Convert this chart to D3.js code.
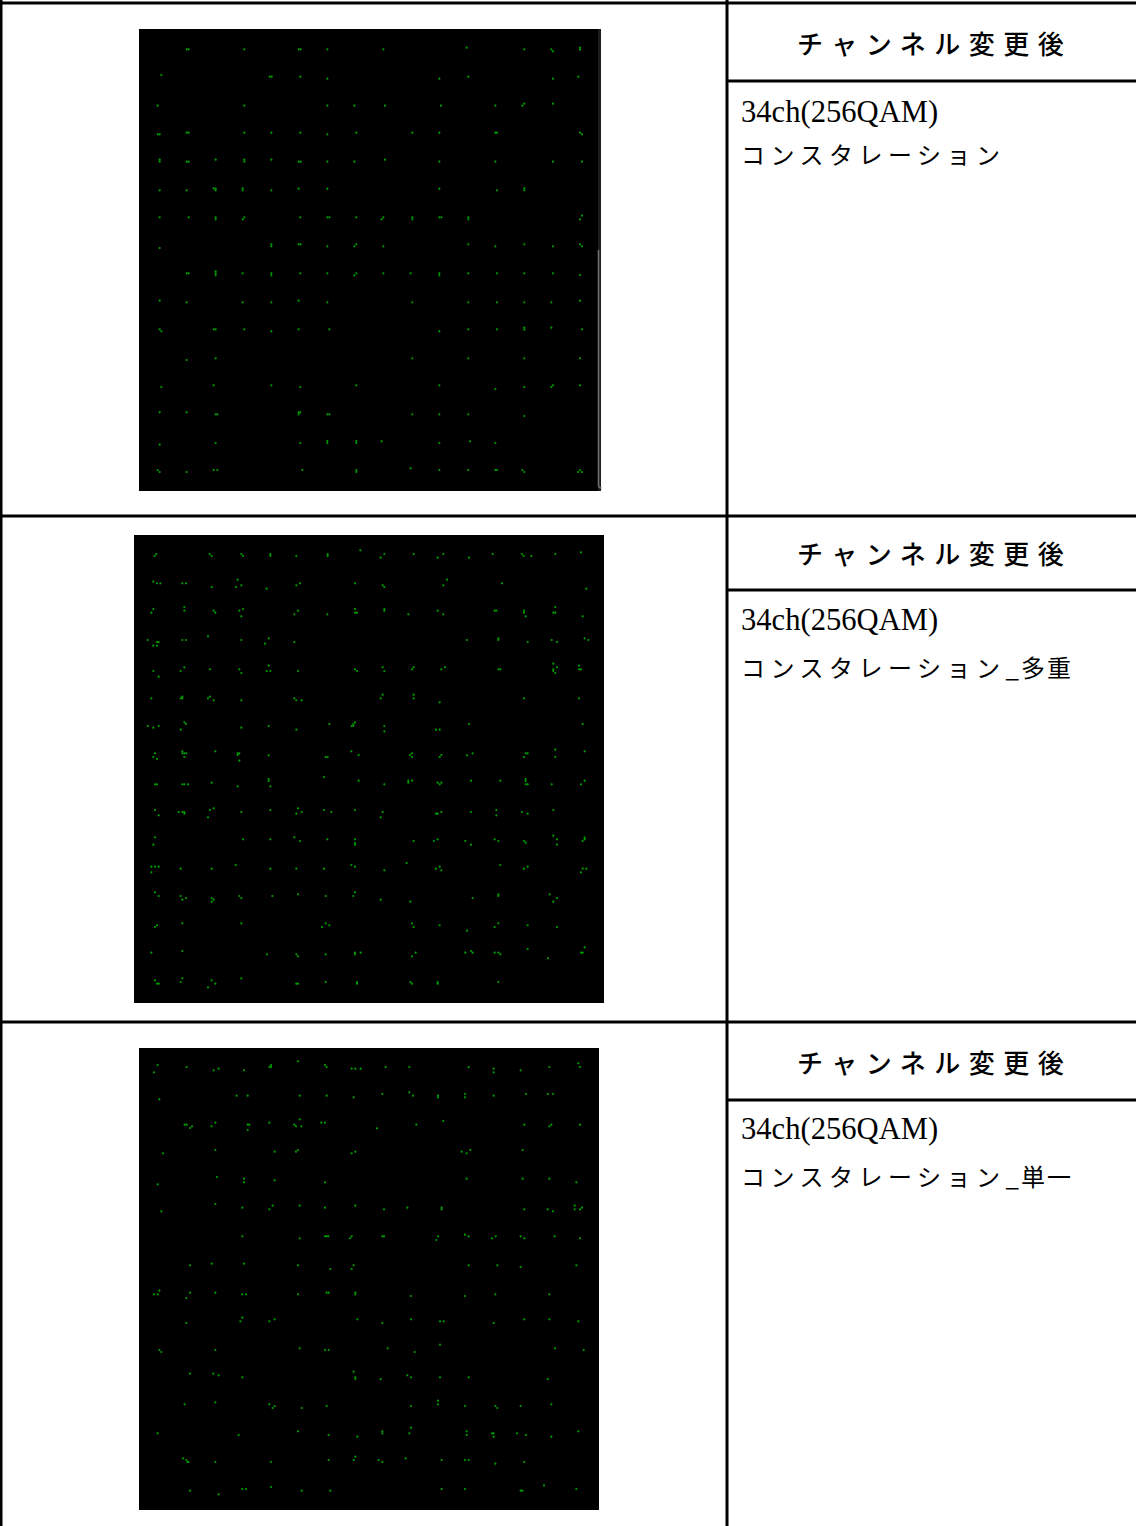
<!DOCTYPE html>
<html lang="ja">
<head>
<meta charset="utf-8">
<script src="https://cdn.jsdelivr.net/npm/d3@7"></script>
<style>html,body{margin:0;padding:0;background:#fff}svg{display:block}</style>
</head>
<body>
<div id="chart"></div>
<script>
// Text content
const headerLabel = "チャンネル変更後";
const channelLabel = "34ch(256QAM)";
const captionStem = "コンスタレーション";
const captionSuffixes = ["", "多重", "単一"];

// Constellation points, one list per inspected tile (I, Q in tile units)
const p1a = [[170,88],[176,88],[343,88],[506,88],[512,88],[592,88],[94,165],[419,170],[425,170],[511,170],[592,176],[83,257],[343,257],[592,257],[673,257],[83,343],[89,343],[170,338],[176,338],[343,338],[424,338],[511,338],[592,343],[679,338],[89,419],[89,425],[170,425],[176,425],[257,419],[343,419],[343,425],[424,419],[506,425],[512,425],[592,425],[673,425],[89,511],[170,511],[251,505],[257,506],[257,511],[338,505],[338,511],[424,511],[506,506],[592,506],[89,592],[176,592],[257,592],[257,598],[343,592],[338,598],[511,592],[592,592],[598,592],[679,592],[89,684],[424,673],[424,679],[506,673],[512,673],[592,679],[679,673],[673,679]];
const p1b = [[40,88],[290,83],[463,88],[544,88],[549,94],[630,83],[630,89],[208,176],[295,170],[549,176],[625,170],[45,257],[213,257],[376,257],[457,257],[463,251],[549,251],[127,338],[208,338],[376,338],[381,338],[630,338],[636,343],[45,419],[208,425],[376,425],[549,425],[636,425],[208,506],[381,511],[463,505],[463,511],[40,592],[35,598],[127,592],[127,598],[208,592],[214,592],[295,592],[295,598],[636,587],[630,598],[40,679],[295,673],[376,679],[463,673],[549,679],[630,673],[636,679]];
const p1c = [[170,40],[176,40],[257,34],[257,40],[257,46],[338,40],[424,40],[424,46],[511,40],[592,40],[679,40],[673,46],[89,122],[170,127],[338,127],[424,127],[506,122],[592,127],[89,208],[94,214],[251,208],[257,208],[343,208],[424,214],[506,208],[598,208],[170,300],[257,295],[94,381],[251,376],[424,376],[511,381],[679,376],[89,457],[170,457],[257,463],[262,463],[506,457],[511,457],[506,463],[592,463],[598,463],[89,554],[257,549],[511,549],[592,543],[592,549],[679,543],[679,549],[83,630],[89,636],[170,636],[251,630],[262,630],[517,630],[679,630],[679,636]];
const p1d = [[40,40],[122,40],[208,40],[208,46],[295,40],[381,40],[463,40],[549,40],[630,45],[127,127],[295,127],[381,127],[463,127],[544,127],[630,122],[208,214],[295,208],[381,208],[463,203],[463,209],[544,203],[636,208],[127,295],[295,295],[463,295],[630,295],[208,376],[376,387],[463,381],[544,381],[549,376],[630,376],[127,463],[208,463],[295,463],[463,468],[35,544],[208,549],[300,544],[376,549],[122,625],[208,630],[295,630],[376,630],[381,630],[457,630],[463,636],[625,636],[630,630],[636,636]];

const p2a = [[89,78],[94,72],[254,72],[260,78],[349,72],[354,78],[436,72],[436,78],[514,78],[608,72],[608,78],[706,61],[85,155],[96,160],[106,160],[172,160],[183,160],[260,171],[338,149],[333,171],[349,166],[425,176],[514,166],[525,160],[690,160],[85,237],[79,248],[178,231],[178,242],[266,242],[271,248],[343,242],[354,237],[349,259],[519,242],[508,253],[607,253],[690,237],[690,248],[696,248],[68,330],[96,336],[101,336],[85,347],[96,347],[172,330],[183,330],[249,319],[349,330],[431,325],[420,341],[508,336],[85,423],[101,440],[178,412],[167,423],[255,418],[343,418],[349,429],[431,407],[425,423],[436,423],[519,423],[690,418],[696,423],[79,505],[167,505],[172,500],[172,505],[249,505],[255,500],[266,511],[349,511],[508,505],[514,511],[530,511],[68,588],[85,593],[101,588],[178,577],[183,582],[167,599],[349,593],[431,588],[514,599],[613,582],[690,577],[685,582],[680,588],[685,588],[90,670],[85,681],[96,687],[172,664],[172,670],[178,670],[184,670],[178,681],[271,664],[338,670],[343,670],[338,675],[343,692],[431,676],[602,681],[608,681],[679,664],[701,675]];
const p2b = [[58,72],[47,83],[146,72],[235,72],[218,83],[312,83],[383,72],[471,72],[476,78],[499,78],[571,72],[648,67],[53,166],[58,171],[246,149],[235,166],[411,160],[664,176],[58,237],[58,242],[130,253],[218,242],[235,253],[389,242],[394,242],[477,242],[477,248],[482,259],[571,231],[565,248],[571,248],[653,259],[306,330],[400,325],[400,330],[488,336],[560,330],[576,336],[659,325],[670,330],[53,412],[58,423],[146,412],[141,418],[240,412],[229,418],[400,418],[406,418],[565,401],[576,412],[565,418],[565,423],[571,429],[642,407],[642,418],[648,418],[53,494],[47,505],[146,494],[146,505],[224,517],[477,505],[642,505],[58,588],[58,604],[213,599],[224,599],[312,582],[653,582],[141,670],[135,675],[141,681],[229,675],[224,681],[306,676],[323,670],[482,670],[488,670],[477,681],[571,659],[571,681],[659,664]];
const p2c = [[90,43],[96,43],[172,43],[178,43],[189,43],[260,38],[338,49],[431,27],[431,33],[436,49],[597,21],[701,32],[90,120],[101,136],[161,126],[172,126],[178,126],[178,131],[255,120],[266,115],[249,142],[349,126],[436,120],[519,115],[514,131],[530,126],[597,120],[619,126],[690,120],[90,202],[85,224],[354,208],[436,208],[508,202],[525,213],[607,208],[690,208],[690,219],[690,224],[79,290],[90,290],[101,290],[79,307],[167,296],[260,296],[332,285],[436,296],[514,296],[597,296],[679,285],[690,290],[90,367],[101,378],[167,378],[172,389],[183,384],[260,384],[266,389],[260,395],[343,378],[349,384],[442,378],[519,373],[602,378],[690,367],[685,378],[96,466],[90,471],[172,460],[349,460],[602,460],[613,466],[591,471],[79,548],[172,543],[426,553],[514,553],[519,559],[602,553],[690,548],[690,553],[707,548],[90,631],[96,641],[101,641],[172,625],[167,636],[260,631],[271,641],[249,652],[349,625],[514,641],[519,641],[602,636],[696,636],[696,641]];
const p2d = [[58,43],[130,32],[130,38],[141,32],[218,38],[229,38],[224,43],[318,32],[406,32],[482,27],[482,33],[482,43],[488,43],[560,43],[659,32],[648,43],[53,126],[47,142],[213,131],[218,131],[229,126],[318,126],[394,120],[394,136],[471,126],[488,131],[565,120],[146,213],[207,213],[218,208],[301,213],[318,224],[389,208],[400,213],[477,213],[482,218],[565,197],[576,208],[576,224],[659,203],[659,208],[653,213],[58,301],[125,279],[213,296],[224,290],[229,301],[406,285],[477,296],[488,290],[653,296],[664,296],[648,307],[47,389],[136,395],[323,384],[400,373],[400,378],[554,373],[576,384],[565,395],[141,460],[146,471],[224,466],[306,482],[389,471],[400,460],[488,466],[576,471],[152,548],[141,559],[301,548],[318,543],[323,548],[389,548],[400,548],[406,553],[488,537],[549,565],[659,532],[648,548],[653,548],[136,636],[141,641],[218,636],[218,641],[400,636]];

const p3a = [[83,75],[72,97],[170,81],[251,91],[266,86],[342,91],[418,81],[423,75],[423,81],[504,64],[585,75],[590,81],[665,86],[676,86],[692,86],[88,178],[320,167],[353,167],[509,167],[590,167],[671,172],[164,254],[170,254],[186,259],[180,264],[256,248],[245,259],[353,254],[358,254],[353,270],[418,248],[493,254],[498,259],[509,238],[514,259],[574,248],[585,248],[99,340],[256,330],[434,335],[504,330],[498,335],[676,335],[665,340],[83,433],[261,411],[342,416],[342,427],[434,421],[585,427],[94,514],[256,492],[337,503],[428,497],[418,508],[509,497],[585,503],[676,497],[337,589],[509,595],[585,589],[590,589],[595,589],[665,589],[660,595],[180,676],[245,671],[342,671],[504,676],[601,687],[671,676],[665,687]];
const p3b = [[47,81],[118,81],[296,81],[371,86],[371,97],[452,91],[538,81],[625,70],[630,81],[37,162],[118,157],[129,167],[204,167],[204,172],[285,162],[285,172],[371,167],[468,162],[533,162],[549,162],[21,265],[139,254],[220,243],[463,254],[544,254],[538,259],[630,254],[275,335],[301,330],[290,340],[458,330],[290,416],[458,416],[538,416],[619,427],[42,508],[112,503],[215,503],[215,508],[463,508],[533,508],[549,514],[614,497],[614,508],[636,503],[630,508],[37,589],[42,589],[204,589],[199,600],[285,584],[296,589],[366,595],[377,589],[452,589],[463,595],[554,589],[630,595],[296,676],[382,676],[452,681],[619,676]];
const p3c = [[72,43],[83,43],[88,32],[180,38],[169,54],[256,38],[337,43],[348,43],[504,43],[590,38],[596,38],[676,38],[676,43],[843,48],[1005,48],[1096,43],[1258,43],[169,129],[337,113],[331,124],[418,124],[434,118],[682,118],[757,129],[843,118],[930,124],[941,124],[1091,129],[1183,118],[1258,118],[1345,124],[88,210],[94,216],[256,210],[509,205],[585,210],[596,210],[773,205],[854,216],[930,194],[1275,205],[1361,210],[180,281],[250,281],[266,286],[337,292],[671,275],[676,292],[676,297],[752,297],[832,286],[843,292],[930,292],[1016,292],[1253,297],[164,373],[256,367],[418,373],[434,378],[428,384],[515,384],[590,378],[843,378],[924,362],[924,373],[1005,378],[1096,378],[1102,384],[1172,378],[1264,373],[83,460],[326,465],[504,454],[596,465],[682,470],[757,454],[757,460],[843,443],[838,460],[1010,454],[1010,465],[1086,460],[1091,460],[1091,470],[1161,460],[1188,465],[1264,470],[1345,454],[159,535],[169,540],[172,546],[175,546],[256,546],[423,546],[596,540],[671,540],[676,530],[746,540],[757,546],[827,535],[935,540],[1005,540],[1016,540],[1096,551],[1183,546],[180,632],[266,643],[337,627],[348,627],[423,621],[515,632],[601,632],[935,627],[1005,627],[1172,632],[1177,632],[1242,616],[1339,627]];

// Layout
const W = 1136, H = 1526;
const svg = d3.select("#chart").append("svg").attr("width", W).attr("height", H).attr("viewBox", [0,0,W,H]);
svg.append("rect").attr("width", W).attr("height", H).attr("fill", "#fff");

const plots = [
  {x:139, y:29,   w:462, h:462},
  {x:134, y:535,  w:470, h:468},
  {x:139, y:1048, w:460, h:462}
];
svg.append("g").selectAll("rect").data(plots).join("rect")
  .attr("x", d=>d.x).attr("y", d=>d.y).attr("width", d=>d.w).attr("height", d=>d.h).attr("fill", "#000");

// Scrollbar remnant at the right of the first screenshot
svg.append("rect").attr("x",598).attr("y",29).attr("width",3).attr("height",462).attr("fill","#1c1c1c");
svg.append("path").attr("d","M598.5,250V485q0,3 3,3").attr("fill","none").attr("stroke","#6e6e6e").attr("stroke-width",1.6);

const tiles = [
  {data:p1a, x0:130, y0:20,   n:720, span:240, ny:720, spany:240},
  {data:p1b, x0:370, y0:20,   n:720, span:240, ny:720, spany:240},
  {data:p1c, x0:130, y0:260,  n:720, span:240, ny:720, spany:240},
  {data:p1d, x0:370, y0:260,  n:720, span:240, ny:720, spany:240},
  {data:p2a, x0:125, y0:530,  n:720, span:240, ny:720, spany:240},
  {data:p2b, x0:365, y0:530,  n:720, span:240, ny:720, spany:240},
  {data:p2c, x0:125, y0:770,  n:720, span:240, ny:720, spany:240},
  {data:p2d, x0:365, y0:770,  n:720, span:240, ny:720, spany:240},
  {data:p3a, x0:130, y0:1040, n:720, span:240, ny:720, spany:240},
  {data:p3b, x0:370, y0:1040, n:720, span:240, ny:720, spany:240},
  {data:p3c, x0:130, y0:1280, n:1440, span:480, ny:738, spany:246}
];
const defs = svg.append("defs");
defs.append("filter").attr("id","soft").attr("x","-50%").attr("y","-50%").attr("width","200%").attr("height","200%")
  .append("feGaussianBlur").attr("stdDeviation",0.45);
const dots = svg.append("g").attr("filter","url(#soft)");
tiles.forEach(t=>{
  const sx = d3.scaleLinear().domain([0,t.n]).range([t.x0,t.x0+t.span]);
  const sy = d3.scaleLinear().domain([0,t.ny]).range([t.y0,t.y0+t.spany]);
  dots.append("g").selectAll("circle").data(t.data).join("circle")
    .attr("cx", d=>sx(d[0])).attr("cy", d=>sy(d[1])).attr("r",1.1).attr("fill","#00a000");
});

// Table rules
const rules = [
  [0,3,1136,3],[0,516,1136,516],[0,1022,1136,1022],
  [727,81,1136,81],[727,590,1136,590],[727,1100,1136,1100],
  [1,0,1,1526],[727,0,727,1526]
];
svg.append("g").selectAll("line").data(rules).join("line")
  .attr("x1",d=>d[0]).attr("y1",d=>d[1]).attr("x2",d=>d[2]).attr("y2",d=>d[3])
  .attr("stroke","#000").attr("stroke-width",3);

// Cell text
const rows = [
  {head:54, ch:122, cap:164},
  {head:564, ch:630, cap:677},
  {head:1073, ch:1139, cap:1186}
];
const g = svg.append("g").attr("fill","#000");
g.selectAll("text.head").data(rows).join("text").attr("class","head")
  .attr("x",797).attr("y",d=>d.head)
  .attr("font-family","'Noto Sans CJK JP'").attr("font-weight",500).attr("font-size",26).attr("letter-spacing",8.5)
  .text(headerLabel);
g.selectAll("text.ch").data(rows).join("text").attr("class","ch")
  .attr("x",741).attr("y",d=>d.ch)
  .attr("font-family","'Liberation Serif'").attr("font-size",30.6)
  .text(channelLabel);
const caps = g.selectAll("text.cap").data(rows).join("text").attr("class","cap")
  .attr("x",741).attr("y",d=>d.cap)
  .attr("font-family","'Noto Sans CJK JP'").attr("font-weight",400).attr("font-size",24);
caps.append("tspan").attr("letter-spacing",5.5).text(captionStem);
caps.filter((d,i)=>captionSuffixes[i]).append("tspan").attr("letter-spacing",0).text("_");
caps.filter((d,i)=>captionSuffixes[i]).append("tspan").attr("dx",2).attr("letter-spacing",2).text((d,i)=>captionSuffixes[i+1]);
</script>
</body>
</html>
